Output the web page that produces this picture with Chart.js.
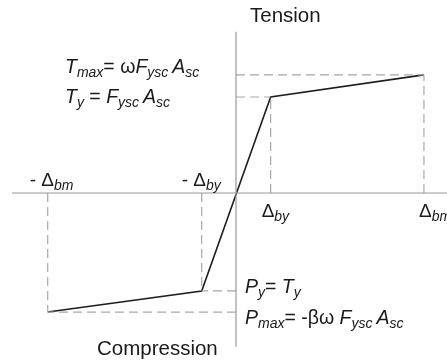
<!DOCTYPE html>
<html>
<head>
<meta charset="utf-8">
<script src="https://cdn.jsdelivr.net/npm/chart.js@4"></script>
<style>
  html, body { margin: 0; padding: 0; background: #fff; }
  canvas { display: block; }
</style>
</head>
<body>
<canvas id="chart" width="447" height="362"></canvas>
<script>
// Backbone curve (deformation in units of Δby, force in units of Ty)
const curveX = [-5.38, -0.98, 0.99, 5.37];
const curveY = [-1.24, -1.02, 1.0, 1.23];

// axis extents
const axisX = [-6.4, 6.1];
const axisY = [-1.6, 1.68];

// scale limits
const xRange = [-6.743, 6.029];
const yRange = [-1.76, 2.01];

const FONT = '"Liberation Sans", Arial, sans-serif';
const GREY = '#9a9a9a';

// dashed guides from each yield / max point to the axes
const guides = [];
curveX.forEach((x, i) => {
  const y = curveY[i];
  guides.push([{ x: x, y: 0 }, { x: x, y: y }]);
  guides.push([{ x: 0, y: y }, { x: x, y: y }]);
});

const datasets = [
  {
    data: [{ x: axisX[0], y: 0 }, { x: axisX[1], y: 0 }],
    borderColor: GREY, borderWidth: 1.2,
  },
  {
    data: [{ x: 0, y: axisY[0] }, { x: 0, y: axisY[1] }],
    borderColor: GREY, borderWidth: 1.2,
  },
  ...guides.map((g) => ({
    data: g,
    borderColor: '#a8a8a8', borderWidth: 1.2, borderDash: [9, 5],
  })),
  {
    data: curveX.map((x, i) => ({ x: x, y: curveY[i] })),
    borderColor: '#1e1e1e', borderWidth: 1.6,
  },
];

// draw mixed italic / subscript text
function rich(ctx, x, y, parts, size) {
  size = size || 19;
  parts.forEach(([txt, st]) => {
    let font, dy = 0;
    if (st === 's') { font = 'italic 14px ' + FONT; dy = 4; }
    else if (st === 'i') { font = 'italic ' + size + 'px ' + FONT; }
    else { font = size + 'px ' + FONT; }
    ctx.font = font;
    ctx.fillText(txt, x, y + dy);
    x += ctx.measureText(txt).width;
  });
}

const labels = {
  id: 'labels',
  afterDatasetsDraw(chart) {
    const ctx = chart.ctx;
    const sx = chart.scales.x, sy = chart.scales.y;
    const ox = sx.getPixelForValue(0);
    const oy = sy.getPixelForValue(0);
    ctx.save();
    ctx.fillStyle = '#1a1a1a';
    ctx.textBaseline = 'alphabetic';

    rich(ctx, ox + 14, 22, [['Tension', 'n']], 20.5);
    rich(ctx, ox - 139, 355, [['Compression', 'n']], 20.5);

    // deformation labels
    const xbmN = sx.getPixelForValue(curveX[0]);
    const xbyN = sx.getPixelForValue(curveX[1]);
    const xbyP = sx.getPixelForValue(curveX[2]);
    const xbmP = sx.getPixelForValue(curveX[3]);
    rich(ctx, xbmN - 18, oy - 7, [['-', 'n'], [' \u0394', 'n'], ['bm', 's']]);
    rich(ctx, xbyN - 20, oy - 7, [['-', 'n'], [' \u0394', 'n'], ['by', 's']]);
    rich(ctx, xbyP - 9, oy + 24, [['\u0394', 'n'], ['by', 's']]);
    rich(ctx, xbmP - 5, oy + 24, [['\u0394', 'n'], ['bm', 's']]);

    // force formulas
    rich(ctx, 65, 73, [['T', 'i'], ['max', 's'], ['= \u03c9', 'n'], ['F', 'i'], ['ysc', 's'], [' ', 's'], ['A', 'i'], ['sc', 's']], 19.5);
    rich(ctx, 65, 103, [['T', 'i'], ['y', 's'], [' = ', 'n'], ['F', 'i'], ['ysc', 's'], [' ', 's'], ['A', 'i'], ['sc', 's']], 19.5);
    rich(ctx, 245, 293, [['P', 'i'], ['y', 's'], ['= ', 'n'], ['T', 'i'], ['y', 's']], 19.5);
    rich(ctx, 245, 324, [['P', 'i'], ['max', 's'], ['= -\u03b2\u03c9 ', 'n'], ['F', 'i'], ['ysc', 's'], [' ', 's'], ['A', 'i'], ['sc', 's']], 19.5);
    ctx.restore();
  },
};

new Chart(document.getElementById('chart'), {
  type: 'scatter',
  data: {
    datasets: datasets.map((d) => ({ ...d, showLine: true, pointRadius: 0, fill: false, tension: 0 })),
  },
  options: {
    responsive: false,
    animation: false,
    devicePixelRatio: 1,
    layout: { padding: 0 },
    plugins: { legend: { display: false }, tooltip: { enabled: false } },
    scales: {
      x: { type: 'linear', min: xRange[0], max: xRange[1], display: false },
      y: { type: 'linear', min: yRange[0], max: yRange[1], display: false },
    },
  },
  plugins: [labels],
});
</script>
</body>
</html>
